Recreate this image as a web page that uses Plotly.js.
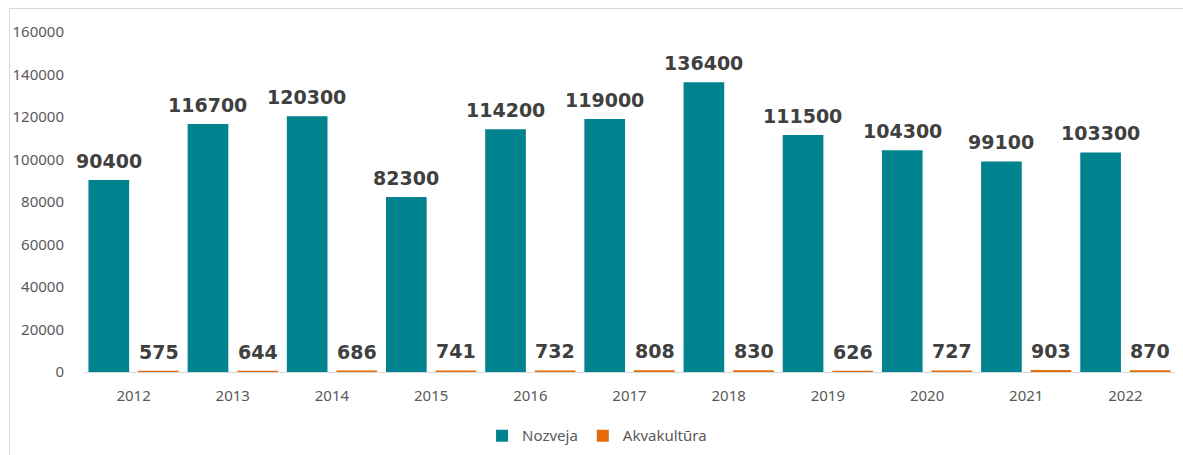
<!DOCTYPE html>
<html>
<head>
<meta charset="utf-8">
<script src="https://cdn.plot.ly/plotly-3.0.1.min.js"></script>
<style>html,body{margin:0;padding:0;background:#fff;}#chart{width:1183px;height:455px;}</style>
</head>
<body>
<div id="chart"></div>
<script>
const years = ['2012','2013','2014','2015','2016','2017','2018','2019','2020','2021','2022'];
const nozveja = [90400,116700,120300,82300,114200,119000,136400,111500,104300,99100,103300];
const akvakultura = [575,644,686,741,732,808,830,626,727,903,870];
const seriesNames = ['Nozveja','Akvakultūra'];
const colors = ['#00838F','#E46C0A'];

const labelFont = {family:'DejaVu Sans, Verdana, sans-serif', size:19, color:'#404040', weight:'bold'};
const tickFont = {family:'Noto Sans, Open Sans, sans-serif', size:15, color:'#595959'};

function mk(vals, i){
  return {type:'bar', x:years, y:vals, name:seriesNames[i], marker:{color:colors[i]}, hoverinfo:'x+y'};
}
const data = [mk(nozveja,0), mk(akvakultura,1)];

const annotations = [];
[nozveja, akvakultura].forEach((vals, i) => {
  vals.forEach((v, k) => {
    annotations.push({x:k, y:v, xref:'x', yref:'y', text:String(v), showarrow:false,
      xanchor:'center', yanchor:'bottom', xshift:(i===0?-25:25), yshift:6, font:labelFont});
  });
});

const layout = {
  width:1183, height:455,
  margin:{l:84, r:8, t:32, b:83},
  paper_bgcolor:'#fff', plot_bgcolor:'#fff',
  barmode:'group', bargap:0, bargroupgap:0.18,
  font:tickFont,
  showlegend:true,
  legend:{orientation:'h', xref:'container', yref:'container', x:0.5047, xanchor:'center', y:0.042, yanchor:'middle',
    font:tickFont},
  xaxis:{type:'category', range:[-0.5, years.length-0.5], showgrid:false, showline:true, linecolor:'#d9d9d9', linewidth:1, automargin:false,
    ticks:'outside', ticklen:10, tickcolor:'rgba(0,0,0,0)', tickfont:tickFont, zeroline:false},
  yaxis:{range:[0,160000], dtick:20000, showgrid:false, showline:false, zeroline:false, automargin:false,
    ticks:'outside', ticklen:16, tickcolor:'rgba(0,0,0,0)', tickfont:tickFont, tickformat:'d'},
  annotations:annotations,
  shapes:[{type:'rect', xref:'paper', yref:'paper', x0:-0.0683, x1:1.02, y0:-0.6, y1:1.069,
    line:{color:'#d9d9d9', width:1}, fillcolor:'rgba(0,0,0,0)', layer:'below'}]
};
Plotly.newPlot('chart', data, layout, {displayModeBar:false, staticPlot:true});
</script>
</body>
</html>
